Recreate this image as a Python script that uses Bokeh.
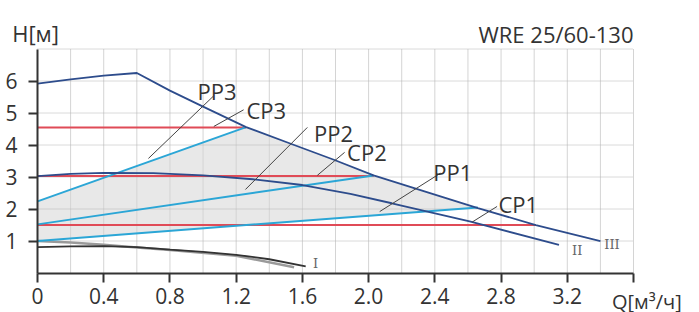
import numpy as np
from bokeh.plotting import figure
from bokeh.models import FixedTicker, LinearAxis
from bokeh.core.properties import value
from bokeh.embed import file_html
from bokeh.resources import INLINE

# ---- data ----
title_text = "WRE 25/60-130"
y_title = "H[м]"
x_title = "Q[м³/ч]"

x_ticks = [0, 0.4, 0.8, 1.2, 1.6, 2.0, 2.4, 2.8, 3.2, 3.6]
x_tick_labels = ["0", "0.4", "0.8", "1.2", "1.6", "2.0", "2.4", "2.8", "3.2", ""]
y_ticks = [1, 2, 3, 4, 5, 6]
x_grid = [0.2, 0.4, 0.6, 0.8, 1.0, 1.2, 1.4, 1.6, 1.8, 2.0, 2.2, 2.4, 2.6, 2.8,
          3.0, 3.2, 3.4, 3.6]
y_grid = [1, 2, 3, 4, 5, 6, 7]
X_MAX = 3.6
Y_MAX = 7

# speed III (max)
q3 = [0, 0.2, 0.4, 0.6, 0.8, 1.0, 1.26, 1.53, 1.79, 2.03, 2.4, 2.66, 3.01, 3.4]
h3 = [5.92, 6.05, 6.17, 6.25, 5.7, 5.2, 4.56, 4.04, 3.54, 3.05, 2.45, 2.03, 1.5, 1.0]
# speed II
q2 = [0, 0.2, 0.4, 0.7, 1.0, 1.3, 1.6, 1.89, 2.14, 2.61, 3.15]
h2 = [3.03, 3.1, 3.13, 3.12, 3.05, 2.93, 2.75, 2.47, 2.18, 1.61, 0.88]
# speed I (two traces)
q1 = [0, 0.2, 0.4, 0.6, 0.8, 1.0, 1.2, 1.4, 1.62]
h1 = [0.81, 0.83, 0.84, 0.81, 0.73, 0.66, 0.57, 0.43, 0.21]
q1b = [0, 0.2, 0.4, 0.6, 0.8, 1.2, 1.55]
h1b = [1.0, 0.95, 0.88, 0.8, 0.72, 0.54, 0.18]

# proportional pressure lines
pp_names = ["PP1", "PP2", "PP3"]
pp_q = [[0, 2.66], [0, 2.03], [0, 1.26]]
pp_h = [[1.0, 2.05], [1.52, 3.05], [2.24, 4.56]]
# constant pressure lines
cp_names = ["CP1", "CP2", "CP3"]
cp_q_end = [3.01, 2.03, 1.26]
cp_h = [1.5, 3.03, 4.55]

# annotation labels and leader lines
ann_text = ["PP3", "CP3", "PP2", "CP2", "PP1", "CP1"]
ann_x = [0.966, 1.262, 1.67, 1.87, 2.39, 2.784]
ann_y = [5.68, 5.08, 4.36, 3.78, 3.15, 2.16]
lead_x0 = [1.061, 1.245, 1.63, 1.855, 2.434, 2.776]
lead_y0 = [5.52, 5.10, 4.55, 3.77, 3.12, 2.08]
lead_x1 = [0.67, 1.065, 1.256, 1.69, 2.067, 2.625]
lead_y1 = [3.58, 4.58, 2.61, 3.05, 1.92, 1.59]

roman_text = ["I", "II", "III"]
roman_x = [1.68, 3.26, 3.47]
roman_y = [0.3, 0.70, 0.88]

# header / footer text anchors (data units of the same scales)
title_pos = (3.6, 7.484)
ytitle_pos = (-0.153, 7.50)
xtitle_pos = (3.47, -0.90)

# ---- colours ----
NAVY = "#2d4c8c"
CYAN = "#2ba6d6"
RED = "#e04b57"
INK = "#333333"
FONT = "Open Sans"

# the frame covers the whole canvas; axes are pinned at 0
p = figure(width=699, height=312, x_range=(-0.2235, 3.9986), y_range=(-1.234, 8.516),
           output_backend="svg", toolbar_location=None,
           x_axis_type=None, y_axis_type=None,
           min_border=0, min_border_left=0, min_border_right=0,
           min_border_top=0, min_border_bottom=0)
p.outline_line_color = None
p.background_fill_color = "white"
p.xgrid.visible = False
p.ygrid.visible = False

# shaded operating area
q3a = np.array(q3)
h3a = np.array(h3)
mask = (q3a >= pp_q[2][1]) & (q3a <= pp_q[0][1])
poly_x = [pp_q[0][0], pp_q[0][1]] + list(q3a[mask][::-1]) + [pp_q[2][0]]
poly_y = [pp_h[0][0], pp_h[0][1]] + list(h3a[mask][::-1]) + [pp_h[2][0]]
p.patch(poly_x, poly_y, fill_color="#e8e8e8", line_color=None)

# grid
p.segment(x0=x_grid, y0=[0] * len(x_grid), x1=x_grid, y1=[Y_MAX] * len(x_grid),
          line_color="#d4d4d4", line_width=1)
p.segment(x0=[0] * len(y_grid), y0=y_grid, x1=[X_MAX] * len(y_grid), y1=y_grid,
          line_color="#b5b5b5", line_width=1, line_dash="1 1")

# axes pinned at the origin
xax = LinearAxis(fixed_location=0, ticker=FixedTicker(ticks=x_ticks), bounds=(0, X_MAX))
xax.major_label_overrides = {t: l for t, l in zip(x_ticks, x_tick_labels)}
yax = LinearAxis(fixed_location=0, ticker=FixedTicker(ticks=y_ticks), bounds=(0, Y_MAX))
for ax in (xax, yax):
    ax.axis_line_color = INK
    ax.axis_line_width = 2
    ax.major_tick_line_color = INK
    ax.major_tick_line_width = 2
    ax.major_tick_in = 0
    ax.major_tick_out = 9
    ax.minor_tick_line_color = None
    ax.major_label_text_font = FONT
    ax.major_label_text_font_size = "21px"
    ax.major_label_text_color = INK
xax.major_label_standoff = 6
yax.major_label_standoff = 11
p.add_layout(xax, "below")
p.add_layout(yax, "left")

# speed I
p.line(q1b, h1b, line_color="#9a9a9a", line_width=2.5)
p.line(q1, h1, line_color=INK, line_width=1.8)

# CP lines
for qe, h in zip(cp_q_end, cp_h):
    p.line([0, qe], [h, h], line_color=RED, line_width=2)
# PP lines
for qs, hs in zip(pp_q, pp_h):
    p.line(qs, hs, line_color=CYAN, line_width=2)

# speed curves
p.line(q2, h2, line_color=NAVY, line_width=1.8)
p.line(q3, h3, line_color=NAVY, line_width=1.8)

# leaders and labels
p.segment(x0=lead_x0, y0=lead_y0, x1=lead_x1, y1=lead_y1,
          line_color="#444444", line_width=1)
p.text(x=ann_x, y=ann_y, text=ann_text, text_font=value(FONT),
       text_font_size="22px", text_color=INK,
       text_baseline="alphabetic", text_align="left")
p.text(x=roman_x, y=roman_y, text=roman_text, text_font=value("DejaVu Serif"),
       text_font_size="13px", text_color="#666666",
       text_baseline="middle", text_align="center")

# titles
p.text(x=[title_pos[0]], y=[title_pos[1]], text=[title_text], text_font=value(FONT),
       text_font_size="22px", text_color=INK, text_align="right",
       text_baseline="alphabetic")
p.text(x=[ytitle_pos[0]], y=[ytitle_pos[1]], text=[y_title], text_font=value(FONT),
       text_font_size="22px", text_color=INK, text_align="left",
       text_baseline="alphabetic")
p.text(x=[xtitle_pos[0]], y=[xtitle_pos[1]], text=[x_title], text_font=value(FONT),
       text_font_size="20px", text_color=INK, text_align="left",
       text_baseline="alphabetic")

open("out.html", "w").write(file_html(p, INLINE))
